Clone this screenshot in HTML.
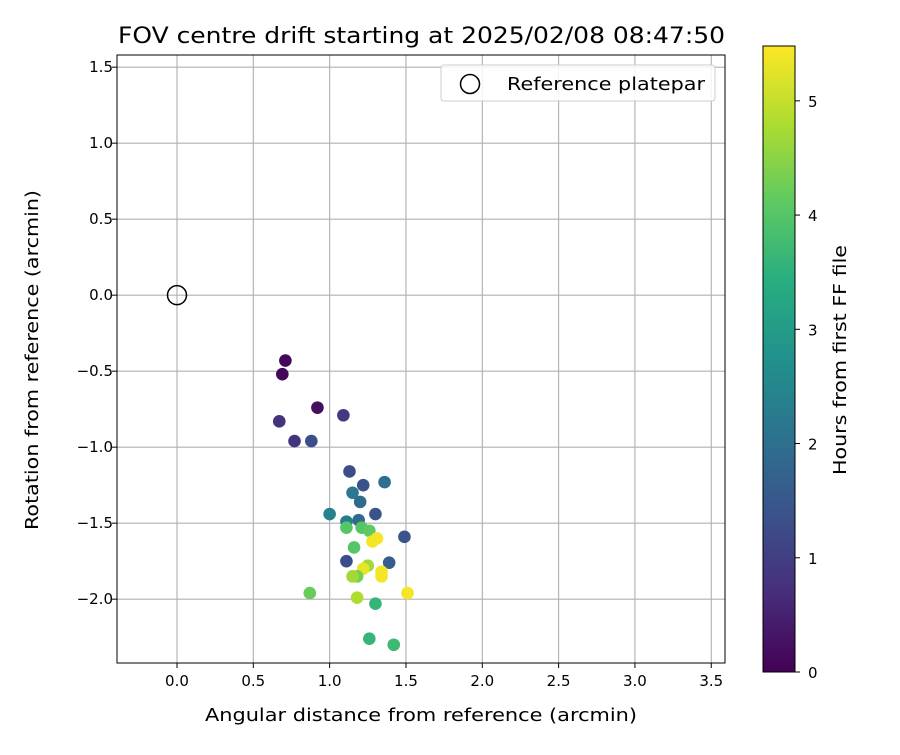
<!DOCTYPE html>
<html><head><meta charset="utf-8"><style>
body{margin:0;background:#fff;}
svg text{font-family:"DejaVu Sans","Liberation Sans",sans-serif;fill:#000;}
</style></head><body>
<svg id="chart" width="900" height="750" xmlns="http://www.w3.org/2000/svg">
<rect width="900" height="750" fill="#fff"/>
<g id="grid"></g><g id="pts"></g><g id="axes"></g>
<defs><linearGradient id="vir" x1="0" y1="1" x2="0" y2="0">
<stop offset="0" stop-color="#440154"/><stop offset="0.125" stop-color="#472d7b"/><stop offset="0.25" stop-color="#3b528b"/><stop offset="0.375" stop-color="#2c728e"/><stop offset="0.5" stop-color="#21918c"/><stop offset="0.625" stop-color="#28ae80"/><stop offset="0.75" stop-color="#5ec962"/><stop offset="0.875" stop-color="#addc30"/><stop offset="1" stop-color="#fde725"/></linearGradient></defs>
</svg>
<script>
const xs=[0.71,0.69,0.92,0.67,1.09,0.77,0.88,1.13,1.22,1.36,1.15,1.20,1.00,1.30,1.11,1.19,1.11,1.21,1.26,1.49,1.31,1.28,1.16,1.11,1.39,1.25,1.22,1.34,1.34,1.18,1.15,0.87,1.51,1.18,1.30,1.26,1.42];
const ys=[-0.43,-0.52,-0.74,-0.83,-0.79,-0.96,-0.96,-1.16,-1.25,-1.23,-1.30,-1.36,-1.44,-1.44,-1.49,-1.48,-1.53,-1.53,-1.55,-1.59,-1.60,-1.62,-1.66,-1.75,-1.76,-1.78,-1.80,-1.82,-1.85,-1.85,-1.85,-1.96,-1.96,-1.99,-2.03,-2.26,-2.30];
const hours=[0.1,0.1,0.2,0.8,0.9,0.8,1.3,1.3,1.4,2.0,2.2,1.9,2.4,1.4,2.3,1.9,4.0,4.0,4.1,1.4,5.4,5.4,4.0,1.3,1.6,4.7,5.3,5.4,5.4,4.3,4.7,4.2,5.4,4.8,3.6,3.6,3.7];
const xTicks=[0.0,0.5,1.0,1.5,2.0,2.5,3.0,3.5];
const yTicks=[1.5,1.0,0.5,0.0,-0.5,-1.0,-1.5,-2.0];
const cTicks=[0,1,2,3,4,5];
const NS="http://www.w3.org/2000/svg";
const L=117,R=725,T=55,B=663,xmin=-0.393,xmax=3.59,ymin=-2.42,ymax=1.58;
const X=v=>L+(v-xmin)/(xmax-xmin)*(R-L);
const Y=v=>B-(v-ymin)/(ymax-ymin)*(B-T);
const CT=46,CB=672,cmax=5.48;
const CY=v=>CB-v/cmax*(CB-CT);
const stops=[[68,1,84],[71,45,123],[59,82,139],[44,114,142],[33,145,140],[40,174,128],[94,201,98],[173,220,48],[253,231,37]];
function vir(t){t=Math.max(0,Math.min(1,t))*8;const i=Math.min(7,Math.floor(t)),f=t-i;const a=stops[i],b=stops[i+1];return`rgb(${a.map((c,k)=>Math.round(c+(b[k]-c)*f)).join(',')})`;}
function mk(tag,at,parent,txt){const e=document.createElementNS(NS,tag);for(const k in at)e.setAttribute(k,at[k]);if(txt!==undefined)e.textContent=txt;parent.appendChild(e);return e;}
const g=document.getElementById('grid'),p=document.getElementById('pts'),ax=document.getElementById('axes');
const fmt=v=>(v<0?'\u2212':'')+Math.abs(v).toFixed(1);
xTicks.forEach(v=>{const x=X(v);
 const l=mk('line',{x1:x,x2:x,y1:T,y2:B,stroke:'#b0b0b0','stroke-width':1.1},g);
 
 
 mk('line',{x1:x,x2:x,y1:B,y2:B+5,stroke:'#000'},ax);
 const t=mk('text',{x:x,y:B+23,'text-anchor':'middle','font-size':15},ax,fmt(v));
 
 });
yTicks.forEach(v=>{const y=Y(v);
 const l=mk('line',{x1:L,x2:R,y1:y,y2:y,stroke:'#b0b0b0','stroke-width':1.1},g);
 
 
 mk('line',{x1:L-5,x2:L,y1:y,y2:y,stroke:'#000'},ax);
 const t=mk('text',{x:L-4,y:y+5,'text-anchor':'end','font-size':15},ax,fmt(v));
 
 });
xs.forEach((v,i)=>{const c=mk('circle',{cx:X(v),cy:Y(ys[i]),r:6.3,fill:vir(hours[i]/cmax)},p);
 
 });
const ref=mk('circle',{cx:X(0),cy:Y(0),r:9.5,fill:'none',stroke:'#000','stroke-width':1.5},p);


mk('rect',{x:L,y:T,width:R-L,height:B-T,fill:'none',stroke:'#000','stroke-width':1},ax);
const lg=mk('g',{},ax);


mk('rect',{x:441,y:65,width:274,height:36,rx:3,fill:'#fff','fill-opacity':0.85,stroke:'#ccc'},lg);
mk('circle',{cx:470,cy:84,r:9.5,fill:'none',stroke:'#000','stroke-width':1.5},lg);
mk('text',{x:507,y:90,'font-size':18,textLength:198,lengthAdjust:'spacingAndGlyphs'},lg,'Reference platepar');
mk('text',{x:118,y:43,'font-size':22,textLength:607,lengthAdjust:'spacingAndGlyphs'},ax,'FOV centre drift starting at 2025/02/08 08:47:50');
mk('text',{x:205,y:721,'font-size':18,textLength:432,lengthAdjust:'spacingAndGlyphs'},ax,'Angular distance from reference (arcmin)');
mk('text',{x:0,y:0,'font-size':18,textLength:340,lengthAdjust:'spacingAndGlyphs',transform:`translate(38,530) rotate(-90)`},ax,'Rotation from reference (arcmin)');
const cb=mk('rect',{x:763,y:CT,width:32,height:CB-CT,fill:'url(#vir)',stroke:'#000','stroke-width':1},ax);


cTicks.forEach(v=>{const y=CY(v);mk('line',{x1:795,x2:800,y1:y,y2:y,stroke:'#000'},ax);
 const t=mk('text',{x:808,y:y+6,'font-size':15},ax,String(v));
 
 });
mk('text',{x:0,y:0,'font-size':18,textLength:230,lengthAdjust:'spacingAndGlyphs',transform:`translate(846,475) rotate(-90)`},ax,'Hours from first FF file');
</script>
</body></html>
